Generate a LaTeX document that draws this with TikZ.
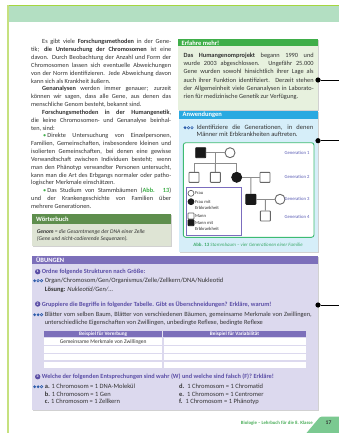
\documentclass[tikz,border=0pt]{standalone}
\usepackage{fontspec}
\setmainfont{Carlito}
\usetikzlibrary{calc}
\definecolor{topband}{HTML}{B3DFC2}
\definecolor{topline}{HTML}{A5D63F}
\definecolor{leftbar}{HTML}{C6E17F}
\definecolor{erfhead}{HTML}{3FAE49}
\definecolor{erfbody}{HTML}{E7F1DE}
\definecolor{anwhead}{HTML}{29A9E1}
\definecolor{anwbody}{HTML}{D6EEF9}
\definecolor{pedgreen}{HTML}{3DBB73}
\definecolor{legpurple}{HTML}{7B6DBE}
\definecolor{genblue}{HTML}{5A5CB5}
\definecolor{woehead}{HTML}{5E8E4D}
\definecolor{woebody}{HTML}{DEE4D4}
\definecolor{ubhead}{HTML}{7C6FBA}
\definecolor{ubbody}{HTML}{DCD9EE}
\definecolor{qpurple}{HTML}{5B4EA6}
\definecolor{diffblue}{HTML}{2E5DAB}
\definecolor{footgreen}{HTML}{4DAF5C}
\definecolor{tabgreen}{HTML}{7BC991}
\definecolor{capgreen}{HTML}{3DAA6B}
\definecolor{textgray}{HTML}{333333}
\definecolor{bulgreen}{HTML}{3FAE49}
\newcommand\fsz[2]{\fontsize{#1}{#2}\selectfont}
\newcommand\diffmark[3]{%
  \foreach \k in {0,1,2}{%
    \pgfmathsetmacro\xx{#1+\k*3.5}%
    \ifnum\k<#3\relax
      \fill[diffblue] (\xx,#2) circle (1.55);
    \else
      \draw[diffblue,line width=0.6pt] (\xx,#2) circle (1.25);
    \fi}}
\begin{document}
\begin{tikzpicture}[x=1pt,y=-1pt,
  txt/.style={inner sep=0, text=textgray},
  para/.style={txt, anchor=north west, align=justify},
  hdr/.style={anchor=west, inner sep=0, text=white, font=\bfseries\fsz{6.5}{7}},
  sq/.style={draw=black!60, line width=0.9pt, minimum size=10pt, inner sep=0, fill=white, rounded corners=0.6pt},
  sqf/.style={sq, fill=black!90, draw=black!90},
  ci/.style={circle, draw=black!60, line width=0.9pt, minimum size=10pt, inner sep=0, fill=white},
  cif/.style={ci, fill=black!90, draw=black!90},
  lsq/.style={sq, minimum size=6pt, line width=0.7pt},
  lsqf/.style={sqf, minimum size=6pt, line width=0.7pt},
  lci/.style={ci, minimum size=6pt, line width=0.7pt},
  lcif/.style={cif, minimum size=6pt, line width=0.7pt},
  pl/.style={draw=black!45, line width=0.9pt},
  gen/.style={inner sep=0, text=genblue, font=\fsz{4.7}{5}},
  leg/.style={inner sep=0, anchor=west, align=left, text=textgray, font=\fsz{4.6}{6.3}},
  dotn/.style={circle, fill=black, minimum size=5.2pt, inner sep=0},
  conn/.style={draw=black, line width=0.8pt},
  numc/.style={circle, fill=qpurple, text=white, minimum size=5.4pt, inner sep=0, font=\bfseries\fsz{3.8}{4}},
  qtext/.style={anchor=west, inner sep=0, text=qpurple, font=\bfseries\fsz{6.3}{7}},
  ubt/.style={anchor=west, inner sep=0, text=textgray, font=\fsz{6.5}{7.8}},
  shadow/.style={fill=black!18}
]
\useasboundingbox (0,0) rectangle (339,433);
\fill[white] (0,0) rectangle (339,433);
% page frame
\fill[topband] (7,5) rectangle (339,22);
\fill[topline] (7,5) rectangle (339,6.5);
\fill[leftbar] (6.5,5) rectangle (8.5,433);

% main column
\node[para, text width=140pt, font=\fsz{6.3}{7.84}] (maintext) at (31,39.2) {%
\tolerance=10000\hyphenpenalty=10000\exhyphenpenalty=10000
\hspace*{11pt}Es gibt viele \textbf{Forschungsmethoden} in der Gene-\linebreak
tik; \textbf{die Untersuchung der Chromosomen} ist eine\linebreak
davon. Durch Beobachtung der Anzahl und Form der\linebreak
Chromosomen lassen sich eventuelle Abweichungen\linebreak
von der Norm identifizieren. Jede Abweichung davon\linebreak
kann sich als Krankheit äußern.\par
\hspace*{11pt}\textbf{Genanalysen} werden immer genauer; zurzeit\linebreak
können wir sagen, dass alle Gene, aus denen das\linebreak
menschliche Genom besteht, bekannt sind.\par
\hspace*{11pt}\textbf{Forschungsmethoden in der Humangenetik},\linebreak
die keine Chromosomen- und Genanalyse beinhal-\linebreak
ten, sind:\par
\hspace*{12pt}{\color{bulgreen}\textbullet}\,Direkte Untersuchung von Einzelpersonen,\linebreak
Familien, Gemeinschaften, insbesondere kleinen und\linebreak
isolierten Gemeinschaften, bei denen eine gewisse\linebreak
Verwandtschaft zwischen Individuen besteht; wenn\linebreak
man den Phänotyp verwandter Personen untersucht,\linebreak
kann man die Art des Erbgangs normaler oder patho-\linebreak
logischer Merkmale einschätzen.\par
\hspace*{12pt}{\color{bulgreen}\textbullet}\,Das Studium von Stammbäumen ({\color{bulgreen}\textbf{Abb. 13}})\linebreak
und der Krankengeschichte von Familien über\linebreak
mehrere Generationen.\par};

% Erfahre mehr box
\fill[shadow] (179,40.3) rectangle (319,111);
\fill[erfbody] (178,39.3) rectangle (318,110);
\fill[erfhead] (178,39.3) rectangle (318,46.5);
\node[hdr] (erfh) at (181.5,43) {Erfahre mehr!};
\node[para, text width=130pt, font=\fsz{6.35}{8.2}] (erft) at (183.5,52.8) {%
\tolerance=10000\hyphenpenalty=10000
\textbf{Das Humangenomprojekt} begann 1990 und\linebreak
wurde 2003 abgeschlossen. Ungefähr 25.000\linebreak
Gene wurden sowohl hinsichtlich ihrer Lage als\linebreak
auch ihrer Funktion identifiziert. Derzeit stehen\linebreak
der Allgemeinheit viele Genanalysen in Laborato-\linebreak
rien für medizinische Genetik zur Verfügung.\par};
\node[dotn] (dot1) at (318,80) {};
\coordinate (out1) at (339,80);
\draw[conn] (dot1) -- (out1);

% Anwendungen box
\fill[shadow] (180,112) rectangle (319,253);
\fill[anwbody] (179,111) rectangle (318,252);
\fill[anwhead] (179,111) rectangle (318,118.5);
\node[hdr] (anwh) at (182.5,114.8) {Anwendungen};
\diffmark{185}{127.7}{1}
\node[para, text width=116.5pt, font=\fsz{6.5}{7.4}] (anwt) at (196.5,124.3) {%
\tolerance=10000\hyphenpenalty=10000
Identifiziere die Generationen, in denen\linebreak
Männer mit Erbkrankheiten auftreten.\par};
\node[dotn] (dot2) at (318,140.7) {};
\coordinate (out2) at (339,140.7);
\draw[conn] (dot2) -- (out2);

% pedigree frame
\draw[pedgreen, line width=0.9pt, fill=white, rounded corners=2.5pt] (183.3,142.7) rectangle (314,237.3);

% pedigree symbols
\node[sqf] (g1m) at (200.7,152.7) {};
\node[ci]  (g1f) at (230,152.7) {};
\node[sq]  (g2a) at (194,177.3) {};
\node[sq]  (g2b) at (215.35,177.3) {};
\node[cif] (g2c) at (236.7,177.3) {};
\node[sq]  (g2s) at (265,177.3) {};
\node[sqf] (g3m) at (250.85,199.3) {};
\node[ci]  (g3f) at (280,199.3) {};
\node[sq]  (g4)  at (265.42,216) {};

\coordinate (m1) at ($(g1m.east)!0.5!(g1f.west)$);
\coordinate (b1) at ($(m1)+(0,10.6)$);
\coordinate (m2) at ($(g2c.east)!0.5!(g2s.west)$);
\coordinate (m3) at ($(g3m.east)!0.5!(g3f.west)$);
\draw[pl] (g1m) -- (g1f);
\draw[pl] (m1) -- (b1);
\draw[pl] (g2a.north) |- (b1) -| (g2c.north);
\draw[pl] (b1) -- (g2b.north);
\draw[pl] (g2c) -- (g2s);
\draw[pl] (m2) -- (g3m.north);
\draw[pl] (g3m) -- (g3f);
\draw[pl] (m3) -- (g4.north);

% generation labels
\node[gen] (gl1) at (297,152.7) {Generation 1};
\node[gen] (gl2) at (297,177.3) {Generation 2};
\node[gen] (gl3) at (297,199.3) {Generation 3};
\node[gen] (gl4) at (297,217.3) {Generation 4};

% legend
\draw[legpurple, line width=0.7pt, fill=white] (186,187.3) rectangle (241.7,235);
\node[lci]  (lc1) at (191,193.3) {};
\node[lcif] (lc2) at (191,201.7) {};
\node[lsq]  (ls1) at (191,216) {};
\node[lsqf] (ls2) at (191,222.7) {};
\node[leg] (lt1) at (194.8,193.3) {Frau};
\node[leg] (lt2) at (194.8,204.85) {Frau mit\\Erbkrankheit};
\node[leg] (lt3) at (194.8,216) {Mann};
\node[leg] (lt4) at (194.8,225.85) {Mann mit\\Erbkrankheit};

% caption
\node[inner sep=0, text=capgreen, font=\fsz{4.9}{5.5}] (cap) at (248,244.3) {\textbf{Abb. 13} \textit{Stammbaum – vier Generationen einer Familie}};

% Woerterbuch
\fill[shadow] (32.7,215) rectangle (172,247);
\fill[woebody] (31.7,214) rectangle (171,246);
\fill[woehead] (31.7,214) rectangle (171,224);
\node[hdr] (woeh) at (36,219) {Wörterbuch};
\node[txt, anchor=north west, align=left, font=\itshape\fsz{5.6}{6.6}] (woet) at (36.7,229.6) {\textbf{Genom} = die Gesamtmenge der DNA einer Zelle\\(Gene und nicht-codierende Sequenzen).};

% Uebungen
\fill[shadow] (32.7,257) rectangle (319.3,411);
\fill[ubbody] (31.7,256) rectangle (318.3,410);
\fill[ubhead] (31.7,256) rectangle (318.3,264);
\node[hdr] (ubh) at (36,260.2) {ÜBUNGEN};

\node[numc] (n1) at (37.7,271.7) {1};
\node[qtext] (q1) at (41.6,271.7) {Ordne folgende Strukturen nach Größe:};
\diffmark{34.6}{280.7}{1}
\node[ubt] (q1a) at (44.6,280.7) {Organ/Chromosom/Gen/Organismus/Zelle/Zellkern/DNA/Nukleotid};
\node[ubt] (q1b) at (44.6,289.3) {\textbf{Lösung:} \textit{Nukleotid/Gen/...}};

\node[numc] (n2) at (37.7,304) {2};
\node[qtext] (q2) at (41.6,304) {Gruppiere die Begriffe in folgender Tabelle. Gibt es Überschneidungen? Erkläre, warum!};
\node[dotn] (dot3) at (318,305) {};
\coordinate (out3) at (339,305);
\draw[conn] (dot3) -- (out3);
\diffmark{34.6}{314.7}{2}
\node[para, text width=267pt, font=\fsz{6.4}{8}] (q2a) at (44.6,311.4) {%
\tolerance=10000\hyphenpenalty=10000
Blätter vom selben Baum, Blätter von verschiedenen Bäumen, gemeinsame Merkmale von Zwillingen,\linebreak
unterschiedliche Eigenschaften von Zwillingen, unbedingte Reflexe, bedingte Reflexe\par};

% table
\fill[ubhead] (44,330.6) rectangle (305.7,336.8);
\fill[white!80!ubhead] (162.4,330.6) rectangle (163.4,336.8);
\foreach \ya/\yb in {338.2/345, 346.4/352.5, 353.9/360.2, 361.6/367.8}{
  \fill[white] (44,\ya) rectangle (162.3,\yb);
  \fill[white] (163.6,\ya) rectangle (305.7,\yb);
}
\node[inner sep=0, text=white, font=\bfseries\fsz{5.2}{6}] (th1) at (103.2,333.7) {Beispiel für Vererbung};
\node[inner sep=0, text=white, font=\bfseries\fsz{5.2}{6}] (th2) at (234.6,333.7) {Beispiel für Variabilität};
\node[inner sep=0, text=textgray, font=\fsz{5.5}{6}] (td1) at (103.2,341.7) {Gemeinsame Merkmale von Zwillingen};

\node[numc] (n3) at (37.7,376.7) {3};
\node[qtext] (q3) at (41.6,376.7) {Welche der folgenden Entsprechungen sind wahr (W) und welche sind falsch (F)? Erkläre!};
\diffmark{34.6}{386.7}{2}
\node[ubt] (ia) at (44.6,386.7) {\textbf{a.} 1 Chromosom = 1 DNA-Molekül};
\node[ubt] (ib) at (44.6,394.2) {\textbf{b.} 1 Chromosom = 1 Gen};
\node[ubt] (ic) at (44.6,401.7) {\textbf{c.} 1 Chromosom = 1 Zellkern};
\node[ubt] (id) at (179,386.7) {\textbf{d.}\ \ 1 Chromosom = 1 Chromatid};
\node[ubt] (ie) at (179,394.2) {\textbf{e.}\ \ 1 Chromosom = 1 Centromer};
\node[ubt] (if) at (179,401.7) {\textbf{f.}\ \ 1 Chromosom = 1 Phänotyp};

% footer
\node[anchor=east, inner sep=0, text=footgreen, font=\bfseries\fsz{4.8}{5}] (foot) at (313,423.3) {Biologie – Lehrbuch für die 8. Klasse};
\fill[tabgreen] (306.5,433) -- (319.5,417.5) to[out=45,in=180] (322,416.5) -- (339,416.5) -- (339,433) -- cycle;
\node[inner sep=0, text=textgray, font=\bfseries\fsz{5.6}{6}] (pg) at (328.5,422.8) {17};
\end{tikzpicture}
\end{document}
